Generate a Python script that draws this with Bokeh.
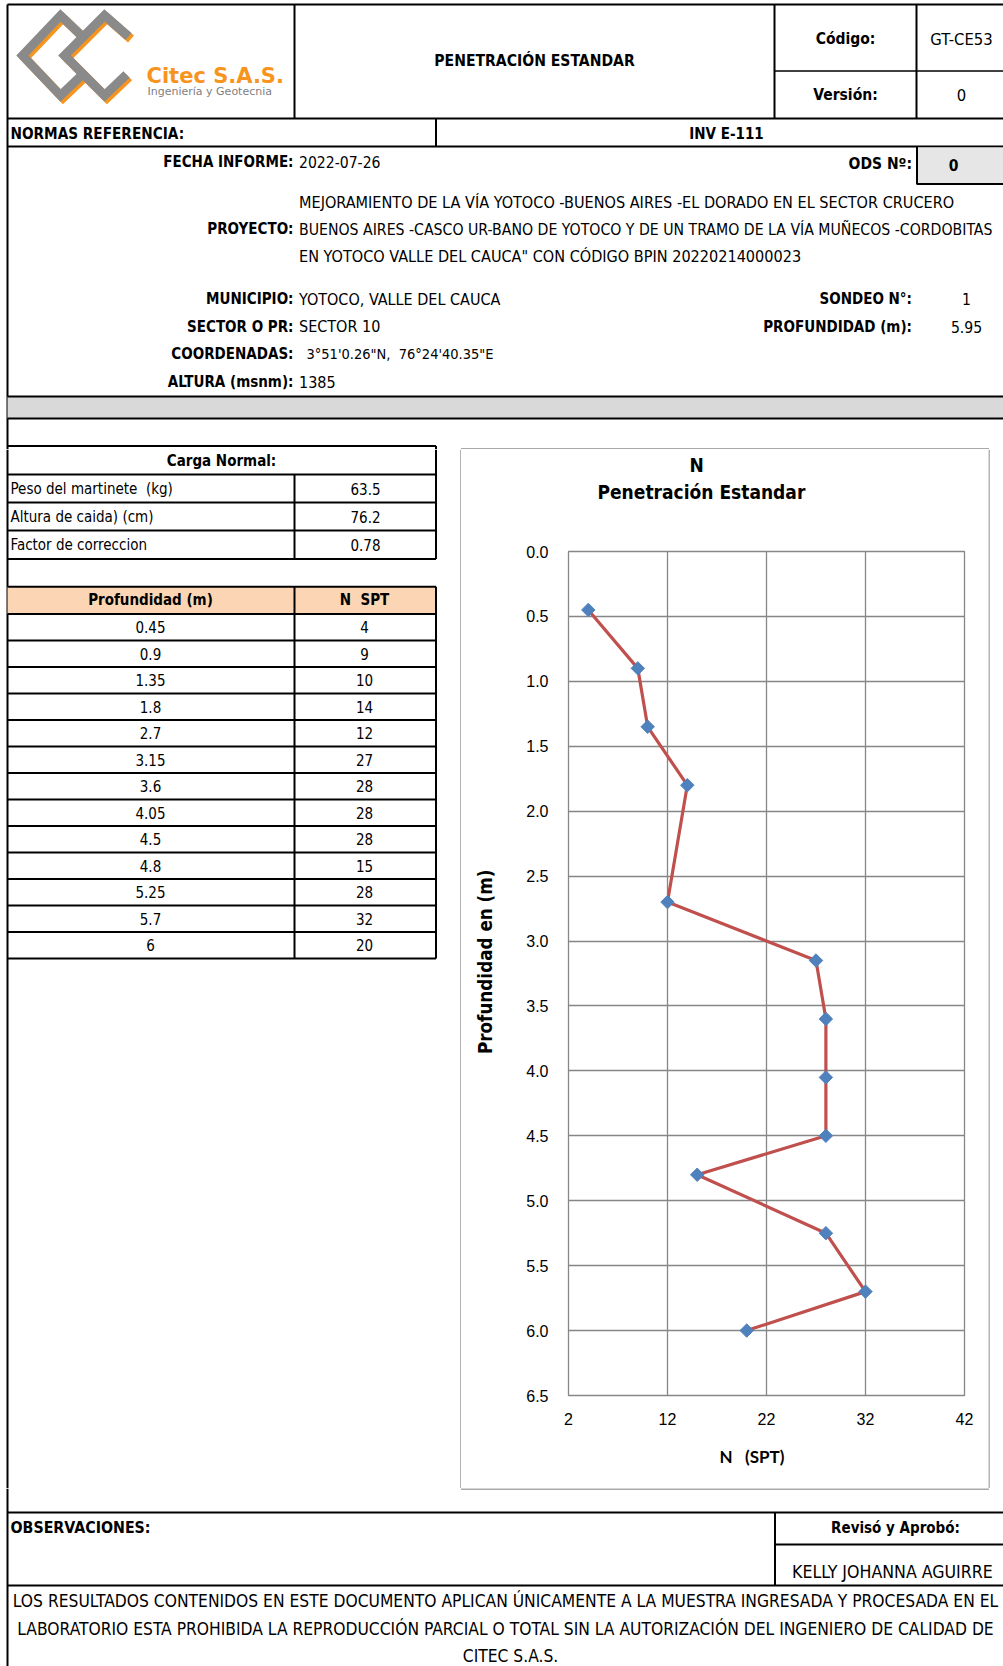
from bokeh.plotting import figure
from bokeh.models import Range1d, FixedTicker, PrintfTickFormatter, Title
from bokeh.layouts import column, row
from bokeh.embed import file_html
from bokeh.resources import INLINE
from bokeh.core.properties import value

# ---------------- data ----------------
profundidad = [0.45, 0.9, 1.35, 1.8, 2.7, 3.15, 3.6, 4.05, 4.5, 4.8, 5.25, 5.7, 6]
n_spt = [4, 9, 10, 14, 12, 27, 28, 28, 28, 15, 28, 32, 20]
carga_labels = ["Peso del martinete  (kg)", "Altura de caida) (cm)", "Factor de correccion"]
carga_values = ["63.5", "76.2", "0.78"]
x_ticks = [2, 12, 22, 32, 42]
y_ticks = [0.0, 0.5, 1.0, 1.5, 2.0, 2.5, 3.0, 3.5, 4.0, 4.5, 5.0, 5.5, 6.0, 6.5]

COND = "DejaVu Sans Condensed"
SANS = "Liberation Sans"
LOGO = "DejaVu Sans"
NB = "\u00a0"

# ---------------- page geometry (reference pixel coords, 1:1) ----------------
W = 1003
Y_HEAD, Y_MID = 449, 1488
H_TOT = 1666
W_LEFT, W_CHART = 461, 527
W_RIGHT = W - W_LEFT - W_CHART


def page_fig(w, x0, x1, y0, y1):
    p = figure(width=w, height=int(round(y1 - y0)), x_range=Range1d(x0, x1),
               y_range=Range1d(y1, y0), output_backend="svg",
               toolbar_location=None, min_border=0, outline_line_color=None,
               x_axis_location=None, y_axis_location=None, title=None,
               background_fill_color="white", border_fill_color="white")
    p.grid.visible = False
    p.frame_align = False
    return p


def seg(p, x0, y0, x1, y1, w=2, c="black"):
    p.segment(x0=[x0], y0=[y0], x1=[x1], y1=[y1], line_width=w, line_color=c)


def txt(p, x, y, s, size=15.6, bold=False, align="left", font=COND, color="black"):
    p.text(x=[x], y=[y], text=[s], text_font=value(font),
           text_font_size=f"{size}px", text_font_style="bold" if bold else "normal",
           text_align=align, text_baseline="middle", text_color=color)


# ---------------- header ----------------
hd = page_fig(W, 0, W, 0, Y_HEAD)
seg(hd, 7, 4, W, 4)
seg(hd, 7, 4, 7, Y_HEAD)
seg(hd, 294, 4, 294, 118)
seg(hd, 774, 4, 774, 118)
seg(hd, 916, 4, 916, 118)
seg(hd, 774, 70.5, W, 70.5, 1.5)
seg(hd, 7, 118, W, 118)
seg(hd, 435.5, 118, 435.5, 146)
seg(hd, 7, 146, W, 146)
hd.quad(left=[917], right=[W], top=[147], bottom=[183], fill_color="#E6E6E6", line_color=None)
seg(hd, 916.5, 146, 916.5, 183.5)
seg(hd, 916, 183.5, W, 183.5)
hd.quad(left=[7], right=[W], top=[396], bottom=[418], fill_color="#D9D9D9", line_color=None)
seg(hd, 7, 396, W, 396)
seg(hd, 7, 418, W, 418)
seg(hd, 7, 445.5, 435.5, 445.5)
seg(hd, 435.5, 445.5, 435.5, Y_HEAD)
seg(hd, 460.5, 448.3, 988.5, 448.3, 1.3, "#8C8C8C")

# logo
shapeA = ([82, 60, 22, 60, 82], [36, 15, 55, 95, 74])
shapeB = ([128, 104, 64, 104, 126], [36, 15, 55, 95, 74])
for (xs, ys) in (shapeA, shapeB):
    hd.line([x + 2.5 for x in xs], [y + 2.5 for y in ys], line_width=9,
            line_color="#F7941D", line_join="miter")
for (xs, ys) in (shapeA, shapeB):
    hd.line(xs, ys, line_width=9, line_color="#8A8A8A", line_join="miter")
txt(hd, 146, 75.5, "Citec S.A.S.", 21, True, "left", LOGO, "#F7941D")
txt(hd, 147, 90.5, "Ingeniería y Geotecnia", 11, False, "left", LOGO, "#808080")

txt(hd, 534, 60.5, "PENETRACIÓN ESTANDAR", 15.6, True, "center")
txt(hd, 845, 38.5, "Código:", 15.5, True, "center")
txt(hd, 961, 38.5, "GT-CE53", 16.5, False, "center")
txt(hd, 845, 94, "Versión:", 15.5, True, "center")
txt(hd, 961, 94, "0", 16.5, False, "center")
txt(hd, 10, 133, "NORMAS REFERENCIA:", 15.2, True)
txt(hd, 726, 133, "INV E-111", 15, True, "center")
txt(hd, 293, 161.5, "FECHA INFORME:", 15, True, "right")
txt(hd, 298.5, 161.5, "2022-07-26")
txt(hd, 911.5, 163, "ODS Nº:", 15.5, True, "right")
txt(hd, 953, 164, "0", 15.5, True, "center")
txt(hd, 298.5, 202, "MEJORAMIENTO DE LA VÍA YOTOCO -BUENOS AIRES -EL DORADO EN EL SECTOR CRUCERO", 16.1)
txt(hd, 293, 228.5, "PROYECTO:", 15, True, "right")
txt(hd, 298.5, 228.5, "BUENOS AIRES -CASCO UR-BANO DE YOTOCO Y DE UN TRAMO DE LA VÍA MUÑECOS -CORDOBITAS", 15.7)
txt(hd, 298.5, 255.5, "EN YOTOCO VALLE DEL CAUCA\" CON CÓDIGO BPIN 20220214000023", 16.1)
txt(hd, 293, 298.6, "MUNICIPIO:", 15, True, "right")
txt(hd, 298.5, 298.6, "YOTOCO, VALLE DEL CAUCA", 16)
txt(hd, 293, 326, "SECTOR O PR:", 15, True, "right")
txt(hd, 298.5, 326, "SECTOR 10", 16)
txt(hd, 293, 353.5, "COORDENADAS:", 15, True, "right")
txt(hd, 306, 353.5, "3°51'0.26\"N," + NB + " 76°24'40.35\"E", 14.5)
txt(hd, 293, 381, "ALTURA (msnm):", 15, True, "right")
txt(hd, 298.5, 381, "1385", 16)
txt(hd, 911.5, 298.6, "SONDEO N°:", 15, True, "right")
txt(hd, 966, 298.6, "1", 15.6, False, "center")
txt(hd, 911.5, 326, "PROFUNDIDAD (m):", 15, True, "right")
txt(hd, 966, 326, "5.95", 15.6, False, "center")

# ---------------- left (tables) ----------------
lf = page_fig(W_LEFT, 0, W_LEFT, Y_HEAD, Y_MID)
seg(lf, 7, Y_HEAD, 7, Y_MID)
carga_lines = [474.0, 502.0, 530.0, 558.5]
seg(lf, 435.5, Y_HEAD, 435.5, 558.5)
seg(lf, 294, 474.0, 294, 558.5)
for yl in carga_lines:
    seg(lf, 7, yl, 435.5, yl)
txt(lf, 221, 460.5, "Carga Normal:", 15, True, "center")
for i, (lab, val) in enumerate(zip(carga_labels, carga_values)):
    yc = (carga_lines[i] + carga_lines[i + 1]) / 2
    txt(lf, 10, yc, lab.replace("  ", NB + " "), 15)
    txt(lf, 365, yc, val, 15, align="center")

t_top, t_head = 586.2, 613.6
row_h = 26.49
n_rows = len(profundidad)
t_bot = t_head + n_rows * row_h
lf.quad(left=[7], right=[435.5], top=[t_top], bottom=[t_head], fill_color="#FCD5B4", line_color=None)
seg(lf, 7, t_top, 435.5, t_top)
seg(lf, 294, t_top, 294, t_bot)
seg(lf, 435.5, t_top, 435.5, t_bot)
for k in range(n_rows + 1):
    yl = t_head + k * row_h
    seg(lf, 7, yl, 435.5, yl)
txt(lf, 150, (t_top + t_head) / 2, "Profundidad (m)", 15, True, "center")
txt(lf, 364, (t_top + t_head) / 2, "N" + NB + " SPT", 15, True, "center")
row_c = [t_head + (k + 0.5) * row_h for k in range(n_rows)]
lf.text(x=[150] * n_rows, y=row_c, text=[f"{v:g}" for v in profundidad],
        text_font=value(COND), text_font_size="15px", text_align="center",
        text_baseline="middle", text_color="black")
lf.text(x=[364] * n_rows, y=row_c, text=[f"{v:g}" for v in n_spt],
        text_font=value(COND), text_font_size="15px", text_align="center",
        text_baseline="middle", text_color="black")
seg(lf, 460.5, Y_HEAD, 460.5, Y_MID, 1.3, "#8C8C8C")

# ---------------- chart ----------------
ch = figure(width=W_CHART, height=Y_MID - Y_HEAD, x_range=Range1d(2, 42), y_range=Range1d(6.5, 0),
            output_backend="svg", toolbar_location=None, title=None,
            min_border_left=107, min_border_right=24, min_border_top=102, min_border_bottom=93,
            outline_line_color="#878787", outline_line_width=1.3,
            background_fill_color="white", border_fill_color="white")
ch.frame_align = False
ch.xaxis.ticker = FixedTicker(ticks=x_ticks)
ch.yaxis.ticker = FixedTicker(ticks=y_ticks)
ch.yaxis.formatter = PrintfTickFormatter(format="%.1f")
for ax in (ch.xaxis[0], ch.yaxis[0]):
    ax.axis_line_color = None
    ax.major_tick_line_color = None
    ax.minor_tick_line_color = None
    ax.major_tick_out = 0
    ax.major_tick_in = 0
    ax.major_label_text_font = SANS
    ax.major_label_text_font_size = "16px"
    ax.major_label_text_color = "black"
ch.yaxis.major_label_standoff = 20
ch.xaxis.major_label_standoff = 17
ch.yaxis.axis_label = NB * 4 + "Profundidad en (m)"
ch.yaxis.axis_label_text_font = COND
ch.yaxis.axis_label_text_font_size = "18.7px"
ch.yaxis.axis_label_text_font_style = "bold"
ch.yaxis.axis_label_text_color = "black"
ch.yaxis.axis_label_standoff = 27
ch.grid.grid_line_color = "#868686"
ch.grid.grid_line_width = 1.3

ch.line(n_spt, profundidad, line_color="#C0504D", line_width=3.2)
ch.scatter(n_spt, profundidad, marker="square", size=9.5, angle=0.785398,
           fill_color="#4F81BD", line_color="#4F81BD")

ch.add_layout(Title(text="N" + NB * 3 + "(SPT)", align="left", offset=151, text_font="Lato",
                    text_font_size="17px", text_font_style="bold", text_color="black",
                    standoff=32), "below")
# spacer between plot area and the two-line title
ch.add_layout(Title(text=" ", align="left", text_font_size="1px", standoff=43.5), "above")
ch.add_layout(Title(text="Penetración Estandar", align="left", offset=29, text_font=COND,
                    text_font_size="19px", text_font_style="bold", text_color="black",
                    standoff=3), "above")
ch.add_layout(Title(text="N", align="left", offset=121, text_font=COND,
                    text_font_size="19px", text_font_style="bold", text_color="black",
                    standoff=4), "above")

# ---------------- right strip ----------------
rt = page_fig(W_RIGHT, 988, W, Y_HEAD, Y_MID)
seg(rt, 988.5, Y_HEAD, 988.5, Y_MID, 1.3, "#8C8C8C")

# ---------------- footer ----------------
ft = page_fig(W, 0, W, Y_MID, H_TOT)
seg(ft, 7, Y_MID, 7, H_TOT)
seg(ft, 460.5, 1488.5, 988.5, 1488.5, 1.3, "#8C8C8C")
seg(ft, 7, 1512, W, 1512)
seg(ft, 774.5, 1512, 774.5, 1585)
seg(ft, 774.5, 1544, W, 1544)
seg(ft, 7, 1585, W, 1585)
txt(ft, 10, 1527, "OBSERVACIONES:", 15.8, True)
txt(ft, 895, 1527, "Revisó y Aprobó:", 15, True, "center")
txt(ft, 791.5, 1571, "KELLY JOHANNA AGUIRRE", 17.6)
txt(ft, 505, 1600, "LOS RESULTADOS CONTENIDOS EN ESTE DOCUMENTO APLICAN ÚNICAMENTE A LA MUESTRA INGRESADA Y PROCESADA EN EL", 17.3, False, "center")
txt(ft, 505, 1628, "LABORATORIO ESTA PROHIBIDA LA REPRODUCCIÓN PARCIAL O TOTAL SIN LA AUTORIZACIÓN DEL INGENIERO DE CALIDAD DE", 17.3, False, "center")
txt(ft, 510, 1655, "CITEC S.A.S.", 17.3, False, "center")

layout = column(hd, row(lf, ch, rt), ft)
open("out.html", "w").write(file_html(layout, INLINE))
